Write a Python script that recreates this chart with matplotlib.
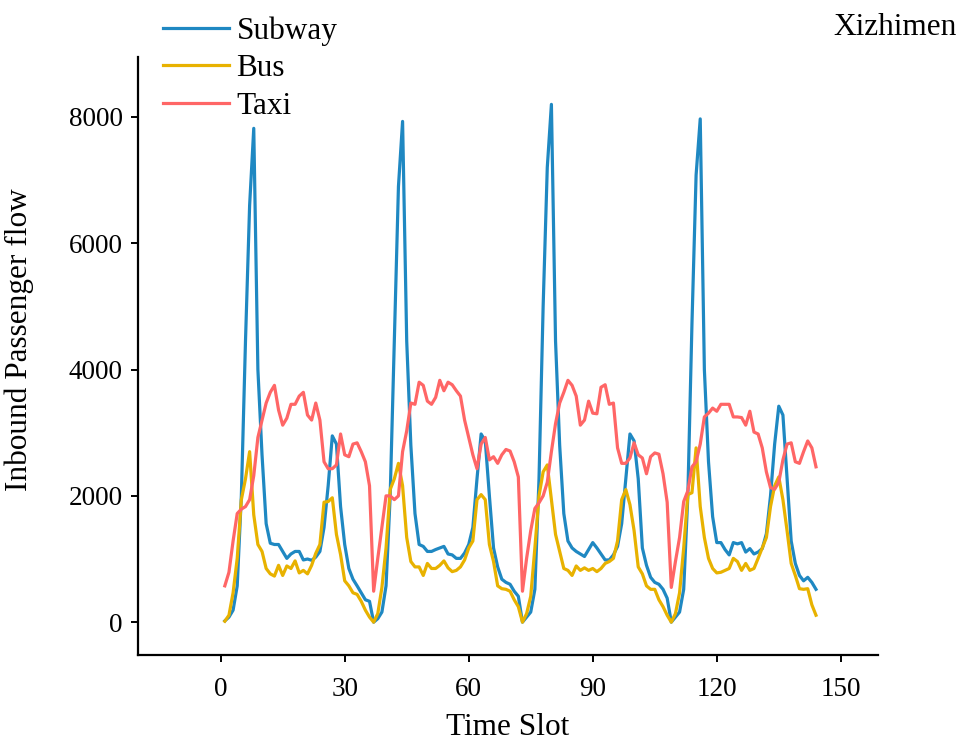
import numpy as np
import matplotlib
matplotlib.use("Agg")
import matplotlib.pyplot as plt

plt.rcParams['font.family'] = ['Liberation Serif', 'DejaVu Serif']

time_slot = list(range(1, 145))

subway = [20, 80, 190, 575, 2000, 4450, 6600, 7820, 4000, 2650, 1560, 1250,
          1230, 1230, 1120, 1010, 1080, 1120, 1120, 985, 1000, 980, 1030, 1120,
          1500, 2160, 2950, 2820, 1830, 1230, 850, 680, 575, 465, 355, 330,
          0, 55, 160, 575, 2000, 4450, 6900, 7930, 4450, 2800, 1720, 1230,
          1200, 1120, 1120, 1150, 1175, 1200, 1080, 1065, 1010, 1010, 1095, 1230,
          1500, 2270, 2980, 2870, 2000, 1175, 875, 680, 630, 600, 490, 410,
          0, 80, 160, 520, 2270, 5000, 7200, 8200, 4450, 2800, 1720, 1285,
          1175, 1120, 1080, 1040, 1150, 1260, 1175, 1080, 985, 985, 1065, 1200,
          1560, 2270, 2980, 2870, 2270, 1175, 900, 710, 630, 600, 520, 380,
          0, 80, 160, 520, 2000, 4730, 7080, 7970, 4000, 2540, 1670, 1260,
          1260, 1150, 1065, 1260, 1240, 1260, 1110, 1165, 1080, 1110, 1165, 1400,
          2000, 2820, 3420, 3280, 2270, 1285, 930, 740, 655, 710, 630, 520]

bus = [15, 110, 465, 1010, 1940, 2270, 2700, 1700, 1230, 1120, 850, 765,
       730, 900, 740, 890, 850, 970, 780, 820, 765, 900, 1090, 1230,
       1900, 1910, 1970, 1390, 1070, 655, 575, 465, 440, 330, 190, 80,
       0, 135, 550, 1175, 2100, 2270, 2515, 2160, 1340, 960, 875, 875,
       740, 930, 850, 850, 900, 970, 860, 800, 820, 875, 985, 1175,
       1285, 1940, 2020, 1940, 1230, 960, 575, 530, 520, 490, 355, 245,
       0, 135, 410, 1175, 2000, 2380, 2490, 1940, 1390, 1120, 850, 820,
       740, 890, 820, 860, 820, 850, 800, 850, 930, 960, 1010, 1285,
       1940, 2100, 1860, 1450, 875, 765, 575, 520, 520, 355, 245, 110,
       0, 135, 465, 1175, 2020, 2050, 2760, 1830, 1340, 1010, 850, 780,
       790, 820, 850, 1010, 960, 820, 930, 820, 850, 1010, 1175, 1340,
       1830, 2160, 2300, 1940, 1450, 930, 740, 530, 520, 530, 275, 110]

taxi = [575, 790, 1285, 1720, 1790, 1830, 1940, 2320, 2925, 3200, 3470, 3640,
        3750, 3360, 3120, 3230, 3450, 3450, 3580, 3640, 3280, 3200, 3470, 3200,
        2540, 2430, 2430, 2490, 2980, 2650, 2620, 2820, 2840, 2700, 2540, 2160,
        490, 1010, 1500, 2000, 2000, 1940, 2000, 2700, 3030, 3470, 3450, 3800,
        3750, 3500, 3450, 3560, 3830, 3665, 3800, 3760, 3665, 3580, 3200, 2925,
        2650, 2430, 2820, 2925, 2570, 2620, 2515, 2650, 2735, 2710, 2540, 2300,
        490, 1010, 1450, 1800, 1890, 2000, 2215, 2700, 3145, 3470, 3640, 3830,
        3750, 3580, 3120, 3200, 3500, 3310, 3300, 3720, 3760, 3450, 3470, 2760,
        2515, 2515, 2600, 2840, 2650, 2600, 2350, 2620, 2680, 2660, 2350, 1900,
        550, 960, 1340, 1910, 2080, 2460, 2540, 2820, 3250, 3310, 3390, 3340,
        3450, 3450, 3450, 3250, 3250, 3240, 3120, 3340, 3010, 2980, 2760, 2380,
        2130, 2105, 2215, 2570, 2820, 2840, 2540, 2515, 2700, 2870, 2760, 2460]

series_names = ["Subway", "Bus", "Taxi"]
colors = ["#1f88c2", "#e8b200", "#ff6666"]

fig = plt.figure(figsize=(9.61, 7.45), dpi=100)
ax = fig.add_axes([138/961, 1 - 655/745, (878-138)/961, (655-57)/745])

for name, vals, c in zip(series_names, [subway, bus, taxi], colors):
    ax.plot(time_slot, vals, color=c, lw=2.3, label=name)

ax.set_xlim(-20, 159)
ax.set_ylim(-520, 8950)
ax.set_xticks([0, 30, 60, 90, 120, 150])
ax.set_yticks([0, 2000, 4000, 6000, 8000])
for s in ["top", "right"]:
    ax.spines[s].set_visible(False)
for s in ["left", "bottom"]:
    ax.spines[s].set_linewidth(1.6)
ax.tick_params(axis='both', direction='out', length=5, width=1.4, labelsize=19.5)
ax.tick_params(axis='y', pad=6)
ax.tick_params(axis='x', pad=11)

ax.set_xlabel("Time Slot", fontsize=22.5, labelpad=8)
ax.set_ylabel("Inbound Passenger flow", fontsize=22.5)
ax.yaxis.set_label_coords(-0.140, 0.527)

leg = ax.legend(loc="upper left", bbox_to_anchor=(0.034, 1.068), frameon=False,
                fontsize=22.5, handlelength=2.1, handletextpad=0.25,
                labelspacing=0.27, borderaxespad=0, borderpad=0)

fig.text(0.996, 0.963, "Xizhimen", ha="right", va="center", fontsize=22.5)

fig.savefig("out.png", dpi=100)
